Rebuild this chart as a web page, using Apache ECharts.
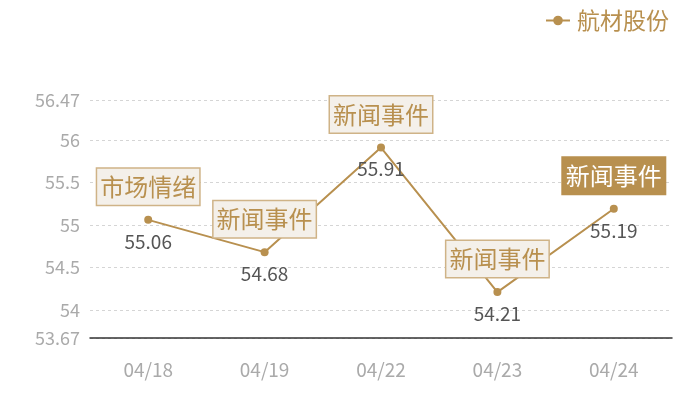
<!DOCTYPE html>
<html>
<head>
<meta charset="utf-8">
<script src="https://cdn.jsdelivr.net/npm/echarts@6/dist/echarts.min.js"></script>
<style>html,body{margin:0;padding:0;background:#fff;}#c{width:700px;height:400px;}</style>
</head>
<body>
<div id="c"></div>
<script>
var categories = ['04/18', '04/19', '04/22', '04/23', '04/24'];
var seriesName = '航材股份';
var prices = [55.06, 54.68, 55.91, 54.21, 55.19];
var eventLabels = ['市场情绪', '新闻事件', '新闻事件', '新闻事件', '新闻事件'];
var eventHighlighted = [false, false, false, false, true];
var yMin = 53.67;
var yMax = 56.47;

var gold = '#b8904f';
var font = '"Noto Sans CJK SC", "Noto Sans", sans-serif';

var eventData = prices.map(function (v, i) {
  var hi = eventHighlighted[i];
  return {
    value: [categories[i], v],
    label: {
      formatter: eventLabels[i],
      color: hi ? '#ffffff' : gold,
      backgroundColor: hi ? gold : '#f4f0ea',
      borderColor: hi ? gold : '#cfb387',
      borderWidth: 1.5
    }
  };
});

var chart = echarts.init(document.getElementById('c'));
chart.setOption({
  animation: false,
  textStyle: { fontFamily: font },
  legend: {
    data: [seriesName],
    right: 26,
    top: 4,
    itemWidth: 24,
    itemHeight: 12,
    itemGap: 4,
    textStyle: { color: gold, fontSize: 23, fontFamily: font, padding: [0, 0, 0, 2] }
  },
  grid: { left: 90, right: 28, top: 100, bottom: 62 },
  xAxis: {
    type: 'category',
    data: categories,
    boundaryGap: true,
    axisLine: { lineStyle: { color: '#333', width: 1.5 } },
    axisTick: { show: false },
    axisLabel: { color: '#aaaaaa', fontSize: 19, margin: 22, fontFamily: font }
  },
  yAxis: {
    type: 'value',
    min: yMin,
    max: yMax,
    axisLine: { show: false },
    axisTick: { show: false },
    axisLabel: { color: '#aaaaaa', fontSize: 18, margin: 10, fontFamily: font },
    splitLine: { lineStyle: { color: '#d5d5d5', type: [3, 3] } }
  },
  series: [
    {
      name: seriesName,
      type: 'line',
      data: prices,
      symbol: 'circle',
      symbolSize: 8,
      itemStyle: { color: gold },
      lineStyle: { color: gold, width: 2 },
      label: {
        show: true,
        position: 'bottom',
        distance: 8,
        color: '#555555',
        fontSize: 19,
        fontFamily: font
      },
      z: 3
    },
    {
      name: 'events',
      type: 'scatter',
      data: eventData,
      symbolSize: 0,
      silent: true,
      itemStyle: { opacity: 1 },
      label: {
        show: true,
        position: 'top',
        distance: 15,
        fontSize: 24,
        lineHeight: 28,
        padding: [4, 3, 4, 3],
        fontFamily: font
      },
      z: 4
    }
  ]
});
</script>
</body>
</html>
